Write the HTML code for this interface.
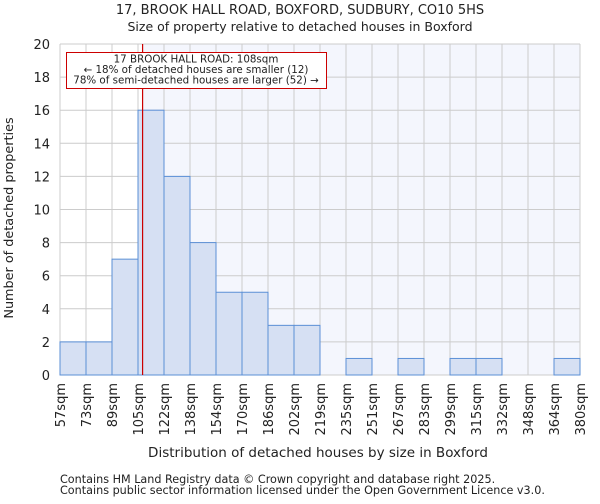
<!DOCTYPE html>
<html><head><meta charset="utf-8"><style>
body{margin:0;background:#fff;font-family:"DejaVu Sans","Liberation Sans",sans-serif}
svg text{font-family:"DejaVu Sans","Liberation Sans",sans-serif;fill:#222}
</style></head><body>
<svg width="600" height="500" xmlns="http://www.w3.org/2000/svg">
<text x="300" y="14" text-anchor="middle" font-size="13">17, BROOK HALL ROAD, BOXFORD, SUDBURY, CO10 5HS</text>
<text x="300" y="31" text-anchor="middle" font-size="12.5">Size of property relative to detached houses in Boxford</text>
<g id="plot"></g>
<text x="318" y="457" text-anchor="middle" font-size="13.5">Distribution of detached houses by size in Boxford</text>
<text transform="translate(13,218) rotate(-90)" text-anchor="middle" font-size="12.8">Number of detached properties</text>
<text x="60" y="483" font-size="11.2">Contains HM Land Registry data © Crown copyright and database right 2025.</text>
<text x="60" y="494" font-size="11.2">Contains public sector information licensed under the Open Government Licence v3.0.</text>
</svg>
<script>
const categories=["57sqm","73sqm","89sqm","105sqm","122sqm","138sqm","154sqm","170sqm","186sqm","202sqm","219sqm","235sqm","251sqm","267sqm","283sqm","299sqm","315sqm","332sqm","348sqm","364sqm","380sqm"];
const counts=[2,2,7,16,12,8,5,5,3,3,0,1,0,1,0,1,1,0,0,1];
const yTicks=[0,2,4,6,8,10,12,14,16,18,20];
const edgeValues=[57,73,89,105,122,138,154,170,186,202,219,235,251,267,283,299,315,332,348,364,380];
const propertySize=108;
const L=60,R=580,T=44,B=375,yMax=20;
const ns="http://www.w3.org/2000/svg";
const g=document.getElementById('plot');
const bw=(R-L)/counts.length;
const xs=i=>L+i*bw;
const ys=v=>B-(v/yMax)*(B-T);
function el(t,a){const e=document.createElementNS(ns,t);for(const k in a)e.setAttribute(k,a[k]);g.appendChild(e);return e;}
let mi=0;for(let i=0;i<edgeValues.length-1;i++){if(propertySize>=edgeValues[i]&&propertySize<=edgeValues[i+1])mi=i;}
const mx=xs(mi)+bw*(propertySize-edgeValues[mi])/(edgeValues[mi+1]-edgeValues[mi]);
let sh=el('rect',{x:mx,y:T,width:R-mx,height:B-T,fill:'#f4f6fd'});


for(let i=0;i<=counts.length;i++){let l=el('line',{x1:xs(i),x2:xs(i),y1:T,y2:B,stroke:'#ccc','stroke-width':1});

}
yTicks.forEach(v=>{let l=el('line',{x1:L,x2:R,y1:ys(v),y2:ys(v),stroke:'#ccc','stroke-width':1});


let t=el('text',{x:L-10,y:ys(v)+5,'text-anchor':'end','font-size':13});t.textContent=v;

});
counts.forEach((c,i)=>{if(c<=0)return;let r=el('rect',{x:xs(i),y:ys(c),width:bw,height:B-ys(c),fill:'#d6e0f3',stroke:'#5b8fd6','stroke-width':1});

});
categories.forEach((c,i)=>{let t=el('text',{transform:`translate(${xs(i)+5},383) rotate(-90)`,'text-anchor':'end','font-size':13});t.textContent=c;

});
let ml=el('line',{x1:mx,x2:mx,y1:T,y2:B,stroke:'#cc0000','stroke-width':1.2});


let box=el('rect',{x:66.5,y:52.5,width:260,height:36,fill:'#fff',stroke:'#cc0000','stroke-width':1});


["17 BROOK HALL ROAD: 108sqm","← 18% of detached houses are smaller (12)","78% of semi-detached houses are larger (52) →"].forEach((s,i)=>{let t=el('text',{x:196,y:62.5+i*10.5,'text-anchor':'middle','font-size':10.3});t.textContent=s;

});
</script>
</body></html>
